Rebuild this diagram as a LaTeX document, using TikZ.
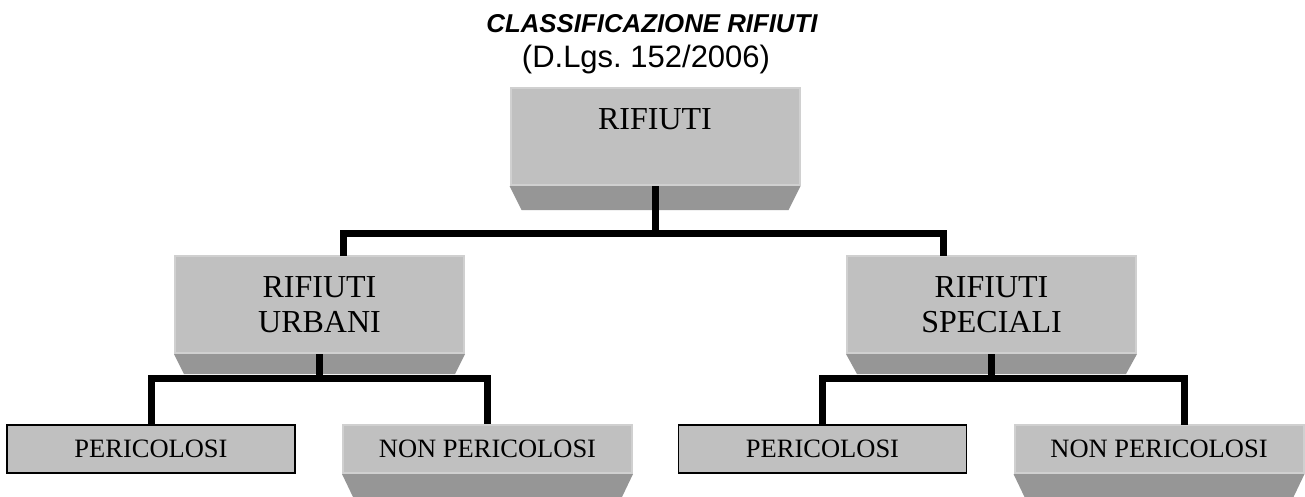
\documentclass[tikz,border=0pt]{standalone}
\usepackage{fontspec}
\setmainfont{Liberation Serif}
\newfontfamily\arialf{Liberation Sans}
\usetikzlibrary{calc}
\definecolor{facegray}{HTML}{C0C0C0}
\definecolor{sidegray}{HTML}{969696}
\definecolor{edgegray}{HTML}{D0D0D0}
\newcommand\myshelf[3]{\fill[sidegray] (#1.south west) -- (#1.south east) -- ++(-#2,#3) -- ($(#1.south west)+(#2,#3)$) -- cycle;}
\begin{document}
\begin{tikzpicture}[x=1pt,y=-1pt,
  face/.style={fill=facegray, draw=edgegray, line width=2pt, minimum width=289pt, inner sep=0pt, align=center},
  bigtext/.style={font=\fontsize{32}{35}\selectfont},
  smalltext/.style={font=\fontsize{26.5}{30}\selectfont},
  flatbox/.style={fill=facegray, draw=black, line width=1.5pt, minimum width=288pt, minimum height=48pt, inner sep=0pt},
  conn/.style={line width=7pt, draw=black},
  titletext/.style={font=\arialf\bfseries\itshape\fontsize{25.8}{30}\selectfont, anchor=base, inner sep=0pt},
  subtext/.style={font=\arialf\fontsize{31}{34}\selectfont, anchor=base, inner sep=0pt}
]
\useasboundingbox (0,0) rectangle (1305,496);
\fill[white] (0,0) rectangle (1305,496);

% title
\node[titletext] (title) at (652,32) {CLASSIFICAZIONE RIFIUTI};
\node[subtext] (sub) at (646,67) {(D.Lgs.\ 152/2006)};

% boxes
\node[face, bigtext, minimum height=97pt] (top) at (655,136.5) {RIFIUTI\\\mbox{}};
\node[face, bigtext, minimum height=97pt] (urb) at (319.5,304.5) {RIFIUTI\\URBANI};
\node[face, bigtext, minimum height=97pt] (spe) at (991.5,304.5) {RIFIUTI\\SPECIALI};
\node[flatbox, smalltext] (p1) at (151,449) {PERICOLOSI};
\node[face, smalltext, minimum height=48pt] (np1) at (487.5,449) {NON PERICOLOSI};
\node[flatbox, smalltext] (p2) at (822.5,449) {PERICOLOSI};
\node[face, smalltext, minimum height=48pt] (np2) at (1159,449) {NON PERICOLOSI};

% bevel shelves
\myshelf{top}{12}{24}
\myshelf{urb}{10}{20}
\myshelf{spe}{11}{20}
\myshelf{np1}{11}{23}
\myshelf{np2}{11}{23}

% connectors
\coordinate (hb1) at (655,233);
\coordinate (d1) at (343,256);
\coordinate (d2) at (943,256);
\draw[conn] (top.south) -- (hb1);
\draw[conn] (d1) |- (hb1) -| (d2);

\coordinate (hb2) at (319.5,378);
\draw[conn] (urb.south) -- (hb2);
\draw[conn] (p1.north) |- (hb2) -| (np1.north);

\coordinate (hb3) at (991.5,378);
\coordinate (d4) at (1184,425);
\draw[conn] (spe.south) -- (hb3);
\draw[conn] (p2.north) |- (hb3) -| (d4);
\end{tikzpicture}
\end{document}
